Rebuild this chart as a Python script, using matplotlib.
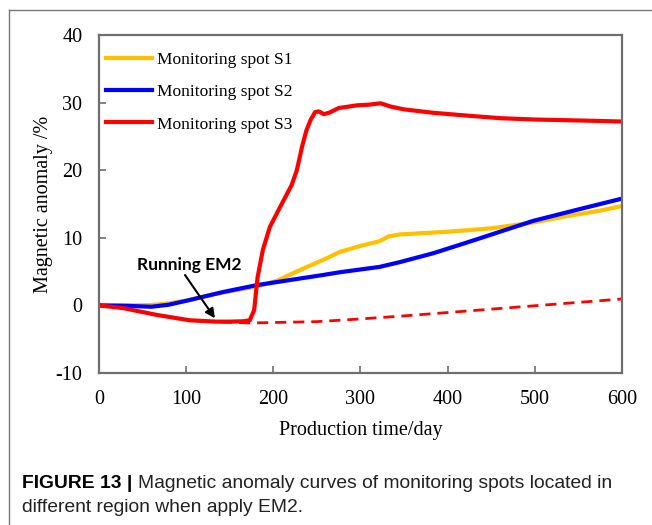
import matplotlib.pyplot as plt
from matplotlib.lines import Line2D

plt.rcParams['axes.unicode_minus'] = False

# monitoring spot S1
s1_days = [0, 30, 60, 80, 100, 130, 160, 185, 205, 230, 260, 276, 300, 322, 332, 345, 400, 450, 500, 536, 570, 600]
s1_vals = [0, 0.0, 0.05, 0.3, 0.7, 1.6, 2.3, 2.9, 3.7, 5.2, 6.9, 7.9, 8.8, 9.5, 10.2, 10.5, 10.9, 11.4, 12.3, 13.2, 13.9, 14.7]

# monitoring spot S2
s2_days = [0, 30, 60, 80, 104, 143, 181, 219, 257, 276, 322, 345, 383, 422, 460, 498, 550, 600]
s2_vals = [0, -0.05, -0.2, 0.1, 0.8, 2.0, 3.0, 3.75, 4.5, 4.9, 5.7, 6.4, 7.7, 9.3, 10.9, 12.5, 14.2, 15.8]

# monitoring spot S3
s3_days = [0, 28, 66, 104, 135, 150, 165, 173, 178, 182, 188, 196, 208, 221, 227, 233, 238, 243, 248,
           252, 258, 264, 275, 296, 310, 323, 335, 350, 383, 420, 460, 500, 536, 570, 600]
s3_vals = [0, -0.4, -1.4, -2.2, -2.4, -2.4, -2.35, -2.2, -0.7, 4.2, 8.2, 11.6, 14.6, 17.8, 20.0, 23.5, 25.9, 27.5, 28.6,
           28.7, 28.3, 28.5, 29.2, 29.6, 29.7, 29.9, 29.4, 29.0, 28.5, 28.1, 27.7, 27.5, 27.4, 27.3, 27.2]

# S3 without EM2
s3_ref_days = [140, 173, 250, 300, 350, 400, 450, 500, 550, 600]
s3_ref_vals = [-2.45, -2.6, -2.4, -2.0, -1.55, -1.05, -0.55, -0.05, 0.45, 0.95]

x_ticks = [0, 100, 200, 300, 400, 500, 600]
y_ticks = [-10, 0, 10, 20, 30, 40]

serif = 'Liberation Serif'
edge = '#6e6e6e'

fig = plt.figure(figsize=(6.52, 5.25), dpi=100)
ax = fig.add_axes([0.1518, 0.2895, 0.8022, 0.6438])

ax.plot(s1_days, s1_vals, color='#ffc000', lw=3, label='Monitoring spot S1')
ax.plot(s2_days, s2_vals, color='#0000ff', lw=3, label='Monitoring spot S2')
ax.plot(s3_ref_days, s3_ref_vals, color='#ff0000', lw=2, ls=(0, (4, 2.5)))
ax.plot(s3_days, s3_vals, color='#ff0000', lw=3, label='Monitoring spot S3')

ax.set_xlim(0, 600)
ax.set_ylim(-10, 40)
ax.set_xticks(x_ticks)
ax.set_yticks(y_ticks)
ax.tick_params(direction='in', length=5, width=1.2, color=edge, pad=12,
               labelsize=14.5, top=False, right=False)
for lab in ax.get_xticklabels() + ax.get_yticklabels():
    lab.set_fontfamily(serif)
for sp in ax.spines.values():
    sp.set_color(edge)
    sp.set_linewidth(1.6)

ax.set_xlabel('Production time/day', fontsize=14.5, family=serif, labelpad=9)
ax.set_ylabel('Magnetic anomaly /%', fontsize=14.5, family=serif, labelpad=2)

leg = ax.legend(loc='upper left', frameon=False, prop={'family': serif, 'size': 12.5},
                handlelength=2.65, handletextpad=0.3, labelspacing=0.92,
                borderaxespad=0.0, bbox_to_anchor=(0.0, 0.97))

ax.text(103, 6.0, 'Running EM2', fontsize=12.5, fontweight='bold', family='Lato',
        ha='center', va='center')
ax.annotate('', xy=(133, -1.9), xytext=(98.7, 4.5),
            arrowprops=dict(arrowstyle='-|>', color='black', lw=1.5,
                            shrinkA=0, shrinkB=0, mutation_scale=14))

# panel border
fig.add_artist(Line2D([9 / 652, 9 / 652], [0, 1 - 10 / 525], color='#777777', lw=1))
fig.add_artist(Line2D([9 / 652, 1], [1 - 10 / 525, 1 - 10 / 525], color='#777777', lw=1))

cap_size = 13.9
cap_bold = fig.text(22 / 652, 1 - 483 / 525, 'FIGURE 13 |', family='Liberation Sans',
                    fontweight='bold', fontsize=cap_size, va='center')
fig.canvas.draw()
bb = cap_bold.get_window_extent()
fig.text(bb.x1 / fig.bbox.width + 0.008, 1 - 483 / 525,
         'Magnetic anomaly curves of monitoring spots located in',
         family='Liberation Sans', fontsize=cap_size, va='center', color='#222222')
fig.text(22 / 652, 1 - 507 / 525, 'different region when apply EM2.',
         family='Liberation Sans', fontsize=cap_size, va='center', color='#222222')

fig.savefig('out.png', dpi=100)
